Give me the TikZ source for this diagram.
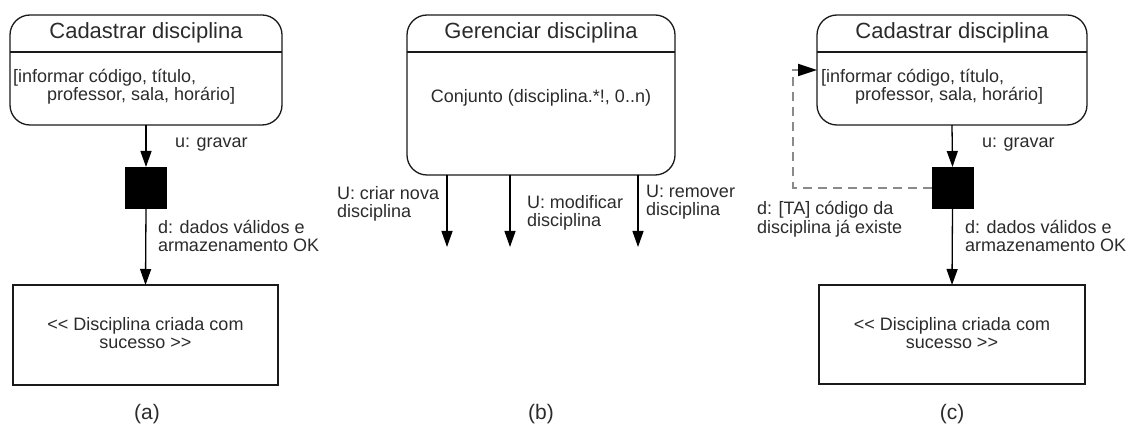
\documentclass[tikz,border=0pt]{standalone}
\usepackage{fontspec}
\setmainfont{Liberation Sans}
\usetikzlibrary{arrows.meta}
\definecolor{txt}{HTML}{2B2B2B}
\definecolor{edge}{HTML}{1A1A1A}
\definecolor{loopgray}{HTML}{8A8A8A}
\newcommand{\titlesize}{\fontsize{22}{26}\selectfont}
\newcommand{\labsize}{\fontsize{18}{20}\selectfont}
\newcommand{\capsize}{\fontsize{21}{24}\selectfont}
\begin{document}
\begin{tikzpicture}[x=1pt,y=-1pt,
  every node/.style={inner sep=0pt,outer sep=0pt,text=txt},
  statebox/.style={draw=edge,line width=1.3pt,rounded corners=20pt},
  resultbox/.style={draw=edge,line width=1.3pt},
  bar/.style={fill=black,minimum width=42pt,minimum height=42pt},
  divider/.style={draw=edge,line width=1.3pt},
  flow/.style={draw=black,line width=1.3pt,-{Triangle[width=11pt,length=16pt]}},
  retry/.style={draw=loopgray,line width=2pt,dash pattern=on 9pt off 6pt,
    -{Triangle[width=12pt,length=19pt,color=black]}},
  ttl/.style={anchor=base,font=\titlesize},
  lab/.style={anchor=base west,font=\labsize},
  ctr/.style={anchor=base,font=\labsize},
  panelcap/.style={anchor=base,font=\capsize}]
\useasboundingbox (0,0) rectangle (1132,430);

% ---------- (a) ----------
\node[statebox,minimum width=272pt,minimum height=110pt] (sa) at (146,70) {};
\draw[divider] ([yshift=-37pt]sa.north west) -- ([yshift=-37pt]sa.north east);
\node[ttl] (sat) at (146,39) {Cadastrar disciplina};
\node[lab] (sab1) at (13,83) {[informar código, título,};
\node[lab] (sab2) at (47,101) {professor, sala, horário]};
\node[bar] (bara) at (146,188) {};
\node[resultbox,minimum width=265pt,minimum height=100pt] (ra) at (145.5,335) {};
\node[ctr] (ra1) at (145.5,330) {<\kern0pt< Disciplina criada com};
\node[ctr] (ra2) at (145.5,348) {sucesso >\kern0pt>};
\draw[flow] (sa.south) -- (bara.north);
\draw[flow] (bara.south) -- (ra.north);
\node[lab] (la1) at (175,148) {u: gravar};
\node[lab] (la2) at (158,234) {d: dados válidos e};
\node[lab] (la3) at (158,252) {armazenamento OK};
\node[panelcap] (capa) at (147,419) {(a)};

% ---------- (b) ----------
\node[statebox,minimum width=268pt,minimum height=160pt] (sb) at (541,95) {};
\draw[divider] ([yshift=-37pt]sb.north west) -- ([yshift=-37pt]sb.north east);
\node[ttl] (sbt) at (541,39) {Gerenciar disciplina};
\node[ctr] (sbb) at (541,103) {Conjunto (disciplina.*!, 0..n)};
\coordinate (e1) at (447,247);
\coordinate (e2) at (510,247);
\coordinate (e3) at (638,247);
\draw[flow] (e1 |- sb.south) -- (e1);
\draw[flow] (e2 |- sb.south) -- (e2);
\draw[flow] (e3 |- sb.south) -- (e3);
\node[lab] (lb1) at (337,200) {U: criar nova};
\node[lab] (lb2) at (337,218) {disciplina};
\node[lab] (lb3) at (527,209) {U: modificar};
\node[lab] (lb4) at (527,227) {disciplina};
\node[lab] (lb5) at (646,198) {U: remover};
\node[lab] (lb6) at (646,216) {disciplina};
\node[panelcap] (capb) at (541,419) {(b)};

% ---------- (c) ----------
\node[statebox,minimum width=270pt,minimum height=110pt] (sc) at (952,70) {};
\draw[divider] ([yshift=-37pt]sc.north west) -- ([yshift=-37pt]sc.north east);
\node[ttl] (sct) at (952,39) {Cadastrar disciplina};
\node[lab] (scb1) at (821,83) {[informar código, título,};
\node[lab] (scb2) at (855,101) {professor, sala, horário]};
\node[bar] (barc) at (952.5,188) {};
\node[resultbox,minimum width=266pt,minimum height=99pt] (rc) at (952,334.5) {};
\node[ctr] (rc1) at (952,330) {<\kern0pt< Disciplina criada com};
\node[ctr] (rc2) at (952,348) {sucesso >\kern0pt>};
\draw[flow] (sc.south) -- (barc.north);
\draw[flow] (barc.south) -- (rc.north);
\coordinate (lp1) at (793,188);
\coordinate (lp2) at (793,70);
\draw[retry] (barc.west) -- (lp1) -- (lp2) -- (lp2 -| sc.west);
\node[lab] (lc1) at (982,148) {u: gravar};
\node[lab] (lc2) at (757,215) {d: [TA] código da};
\node[lab] (lc3) at (757,234) {disciplina já existe};
\node[lab] (lc4) at (965,234) {d: dados válidos e};
\node[lab] (lc5) at (965,252) {armazenamento OK};
\node[panelcap] (capc) at (952,419) {(c)};
\end{tikzpicture}
\end{document}
